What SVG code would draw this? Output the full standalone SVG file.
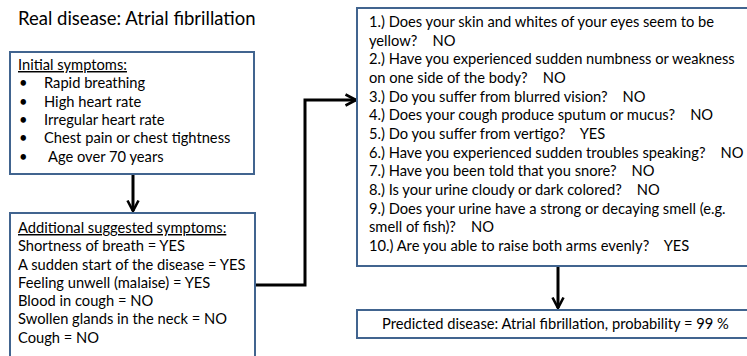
<svg xmlns="http://www.w3.org/2000/svg" width="747" height="356" viewBox="0 0 747 356">
<defs>
<style>
.box{fill:#fff;stroke:#41648F;stroke-width:2}
.t{font-family:Lato,"Liberation Sans",sans-serif;font-size:14.7px;fill:#000;white-space:pre}
.title{font-family:Lato,"Liberation Sans",sans-serif;font-size:18.5px;fill:#000}
.u{text-decoration:underline}
.conn{fill:none;stroke:#000;stroke-width:3}
</style>
<marker id="arr" viewBox="0 0 14 14" refX="12" refY="7" markerWidth="14" markerHeight="14" markerUnits="userSpaceOnUse" orient="auto">
<path d="M1.5,1.5 L12,7 L1.5,12.5" fill="none" stroke="#000" stroke-width="2.6"/>
</marker>
</defs>
<rect width="747" height="356" fill="#fff"/>
<text class="title" x="18" y="25">Real disease: Atrial fibrillation</text>
<g id="connectors">
<path class="conn" d="M133,175 V211" marker-end="url(#arr)"/>
<path class="conn" d="M256,285 H305 V100 H356" marker-end="url(#arr)"/>
<path class="conn" d="M558,267 V308" marker-end="url(#arr)"/>
</g>
<g id="initial">
<rect class="box" x="10" y="52" width="244" height="122"/>
<text class="t u" x="18" y="70">Initial symptoms:</text>
<text class="t" x="19" y="88">•</text><text class="t" x="44" y="88">Rapid breathing</text>
<text class="t" x="19" y="107">•</text><text class="t" x="44" y="107">High heart rate</text>
<text class="t" x="19" y="125">•</text><text class="t" x="44" y="125">Irregular heart rate</text>
<text class="t" x="19" y="143">•</text><text class="t" x="44" y="143">Chest pain or chest tightness</text>
<text class="t" x="19" y="162">•</text><text class="t" x="48" y="162">Age over 70 years</text>
</g>
<g id="additional">
<rect class="box" x="10" y="213" width="245" height="150"/>
<text class="t u" x="18" y="233">Additional suggested symptoms:</text>
<text class="t" x="18" y="251">Shortness of breath = YES</text>
<text class="t" x="18" y="270">A sudden start of the disease = YES</text>
<text class="t" x="18" y="288">Feeling unwell (malaise) = YES</text>
<text class="t" x="18" y="306">Blood in cough = NO</text>
<text class="t" x="18" y="324">Swollen glands in the neck = NO</text>
<text class="t" x="18" y="343">Cough = NO</text>
</g>
<g id="questions">
<rect class="box" x="357" y="8" width="400" height="258"/>
<text class="t" x="369" y="27">1.) Does your skin and whites of your eyes seem to be</text>
<text class="t" x="369" y="46">yellow?    NO</text>
<text class="t" x="369" y="64">2.) Have you experienced sudden numbness or weakness</text>
<text class="t" x="369" y="83">on one side of the body?    NO</text>
<text class="t" x="369" y="102">3.) Do you suffer from blurred vision?    NO</text>
<text class="t" x="369" y="120">4.) Does your cough produce sputum or mucus?    NO</text>
<text class="t" x="369" y="139">5.) Do you suffer from vertigo?    YES</text>
<text class="t" x="369" y="158">6.) Have you experienced sudden troubles speaking?    NO</text>
<text class="t" x="369" y="176">7.) Have you been told that you snore?    NO</text>
<text class="t" x="369" y="195">8.) Is your urine cloudy or dark colored?    NO</text>
<text class="t" x="369" y="214">9.) Does your urine have a strong or decaying smell (e.g.</text>
<text class="t" x="369" y="232">smell of fish)?    NO</text>
<text class="t" x="369" y="251">10.) Are you able to raise both arms evenly?    YES</text>
</g>
<g id="prediction">
<rect class="box" x="357" y="310" width="400" height="28"/>
<text class="t" x="382" y="329">Predicted disease: Atrial fibrillation, probability = 99 %</text>
</g>
</svg>
